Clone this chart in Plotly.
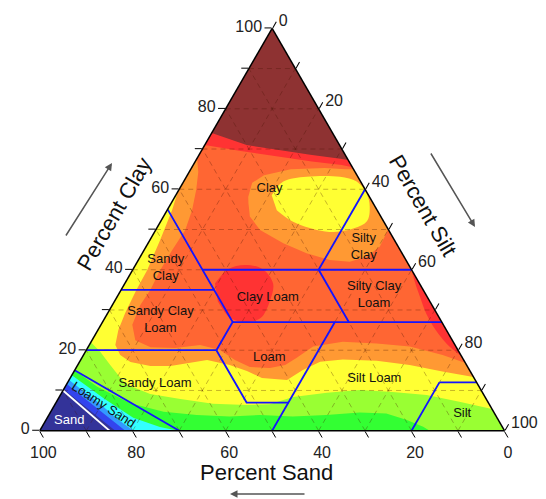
import plotly.graph_objects as go

# ---------------- data: band boundaries as (clay %, sand %) ----------------
base_clay = [100, 0, 0]
base_sand = [0, 100, 0]

green_clay = [15, 10.9, 6.8, 4.7, 3.9, 3.5, 3.9, 3.5, 3.9, 4.5, 4.3, 2.7, 1.0, 0, 0]
green_sand = [85, 82.2, 77.1, 71.0, 64.3, 57.4, 50.7, 43.8, 36.4, 28.9, 23.3, 19.8, 17.0, 16.1, 100]

cyan_clay = [13.8, 8.0, 3.2, 0.9, 0, 0]
cyan_sand = [86.2, 82.2, 78.3, 73.7, 70.2, 100]

lblue_clay = [12.6, 6.6, 2.7, 0, 0]
lblue_sand = [87.4, 83.65, 81.75, 79.8, 100]

blue_clay = [11.6, 5.6, 0, 0]
blue_sand = [88.4, 84.9, 81.6, 100]

navy_clay = [10.3, 4.3, 0, 0]
navy_sand = [89.7, 86.25, 83.75, 100]

yellow_clay = [22, 19.6, 16.3, 11.6, 9.1, 7.9, 6.7, 6.4, 6.6, 8.4, 9.4, 10.1, 9.6, 8.9, 7.2, 5.4, 100]
yellow_sand = [78, 77.2, 76.7, 75.8, 71.7, 65.8, 59.4, 52.2, 47.2, 41.3, 33.5, 26.1, 19.3, 12.3, 6.1, 0, 0]

orange_clay = [59.4, 54.85, 47.4, 39.9, 35.0, 29.25, 25.0, 21.3, 18.8, 17.1, 16.1, 16.1, 17.6, 16.3,
               14.85, 13.1, 12.6, 15.1, 17.15, 17.7, 17.4, 16.3, 14.7, 13.35, 100]
orange_sand = [40.6, 44.1, 50.4, 56.95, 61.7, 67.0, 70.6, 73.1, 73.3, 71.95, 68.15, 63.85, 55.2, 51.0,
               48.0, 45.65, 40.5, 35.85, 31.1, 25.95, 18.8, 12.25, 6.0, 0, 0]

ored_clay = [67.7, 64.3, 59.8, 54.85, 49.9, 44.9, 39.9, 35.0, 31.2, 26.3, 22.5, 20.75, 20.55, 21.3, 20.05,
             17.6, 15.8, 15.6, 16.3, 18.1, 20.9, 22.1, 21.7, 20.9, 18.8, 16.8, 100]
ored_sand = [32.3, 33.75, 36.45, 39.8, 43.75, 49.05, 54.15, 58.7, 62.8, 66.95, 68.2, 65.8, 60.6, 54.85, 51.2,
             49.2, 46.9, 42.7, 39.05, 35.65, 30.75, 23.75, 16.65, 9.95, 3.9, 0, 0]

redtop_clay = [71, 69.5, 68.2, 66.9, 66.0, 65.5, 100]
redtop_sand = [29, 22, 15, 8, 2, 0, 0]

rededge_clay = [40, 37, 33, 29, 25, 21.5, 18.5]
rededge_sand = [0, 0.8, 1.6, 2.3, 2.3, 1.6, 0]

redblob_clay = [36.6, 40.2, 41.2, 40.2, 36.6, 32.2, 28.0, 27.0, 28.0, 32.2]
redblob_sand = [44.0, 39.3, 35.3, 32.0, 31.5, 34.4, 38.5, 42.3, 45.0, 45.6]

brown_clay = [74, 71, 69.8, 68.6, 67.6, 67.3, 100]
brown_sand = [26, 20, 14, 7.5, 1.5, 0, 0]

ring_clay = [58.1, 61.6, 63.5, 65.0, 65.3, 65.0, 65.0, 50, 49.1, 45.7, 43.2, 42.0, 42.4, 44.1, 46.6, 49.9, 53.2, 56.5]
ring_sand = [26.1, 23.5, 20.0, 13.5, 6.0, 1.6, 0, 0, 0.85, 4.0, 8.1, 12.3, 16.4, 20.55, 24.3, 27.65, 28.2, 26.85]

yblob_clay = [58.5, 61.9, 63.1, 63.1, 61.9, 59.0, 55.7, 51.9, 49.5, 49.9, 51.9, 54.8]
yblob_sand = [20.85, 16.65, 11.05, 3.85, 0.85, 0.2, 1.15, 3.75, 10.65, 15.45, 19.55, 21.6]

# USDA texture class boundaries (clay, sand) polylines
class_lines = [
    ([15, 0], [85, 70]),
    ([20, 20], [80, 52]),
    ([20, 7, 7], [52, 52, 43]),
    ([0, 27], [50, 23]),
    ([27, 27], [45, 0]),
    ([20, 27, 55], [52, 45, 45]),
    ([35, 35], [65, 45]),
    ([40, 40], [45, 0]),
    ([40, 60], [20, 0]),
    ([27, 40], [20, 20]),
    ([12, 12], [8, 0]),
    ([12, 0], [8, 20]),
]
sand_line = ([10, 0], [90, 85])

grid_vals = [10, 20, 30, 40, 50, 60, 70, 80, 90]
tick_vals = [0, 10, 20, 30, 40, 50, 60, 70, 80, 90, 100]
tick_text = ['0', '', '20', '', '40', '', '60', '', '80', '', '100']

labels = ['Clay', 'Silty<br>Clay', 'Sandy<br>Clay', 'Clay Loam', 'Silty Clay<br>Loam',
          'Sandy Clay<br>Loam', 'Loam', 'Sandy Loam', 'Silt Loam', 'Silt']
label_clay = [60.1, 45.6, 40.4, 33.1, 33.7, 27.5, 18.2, 11.6, 13.0, 4.2]
label_sand = [20.5, 7.5, 52.7, 34.4, 11.2, 60.3, 41.5, 69.4, 21.5, 7.0]

# ---------------- figure ----------------
fig = go.Figure()


def silt_of(clay, sand):
    return [100 - c - s for c, s in zip(clay, sand)]


def band(clay, sand, color, shape='linear'):
    fig.add_trace(go.Scatterternary(
        a=clay, b=sand, c=silt_of(clay, sand), mode='lines', fill='toself',
        fillcolor=color, line=dict(width=0, color=color, shape=shape),
        hoverinfo='skip', showlegend=False))


band(base_clay, base_sand, '#99FF33')
band(green_clay, green_sand, '#33FF33')
band(cyan_clay, cyan_sand, '#33FFFF')
band(lblue_clay, lblue_sand, '#3399FF')
band(blue_clay, blue_sand, '#3344EE')
band(navy_clay, navy_sand, '#333399')
band(yellow_clay, yellow_sand, '#FFFF33')
band(orange_clay, orange_sand, '#FF9933')
band(ored_clay, ored_sand, '#FF6633')
band(redtop_clay, redtop_sand, '#FF3333')
band(rededge_clay, rededge_sand, '#FF3333', 'spline')
band(redblob_clay, redblob_sand, '#FF3333', 'spline')
band(brown_clay, brown_sand, '#8E3232')
band(ring_clay, ring_sand, '#FF9933')
band(yblob_clay, yblob_sand, '#FFFF33', 'spline')

# dashed grid lines
gcol = 'rgba(70,20,0,0.35)'
for v in grid_vals:
    for a, b in (([v, v], [100 - v, 0]), ([0, 100 - v], [v, v]), ([0, 100 - v], [100 - v, 0])):
        fig.add_trace(go.Scatterternary(
            a=a, b=b, c=silt_of(a, b), mode='lines',
            line=dict(color=gcol, width=0.9, dash='5px,4px'), hoverinfo='skip', showlegend=False))

# class boundaries
for a, b in class_lines:
    fig.add_trace(go.Scatterternary(a=a, b=b, c=silt_of(a, b), mode='lines',
                                    line=dict(color='#1414FF', width=1.8),
                                    hoverinfo='skip', showlegend=False))
fig.add_trace(go.Scatterternary(a=sand_line[0], b=sand_line[1], c=silt_of(*sand_line), mode='lines',
                                line=dict(color='white', width=1.8), hoverinfo='skip', showlegend=False))

font = 'Liberation Sans, Arial'

# class labels
fig.add_trace(go.Scatterternary(a=label_clay, b=label_sand, c=silt_of(label_clay, label_sand),
                                mode='text', text=labels,
                                textfont=dict(family=font, size=13, color='#111'),
                                hoverinfo='skip', showlegend=False))

# page body has an 8px margin: the figure is drawn 8px right/down of the window corner
OFF = 8
W, H = 546 - OFF, 499 - OFF
dom_x = [31.3 / W, 497.0 / W]
dom_y = [68.3 / H, 470.7 / H]

axis_common = dict(min=0, tickmode='array', tickvals=tick_vals, ticktext=tick_text,
                   ticks='outside', ticklen=7, tickcolor='#000', tickwidth=1.2,
                   linecolor='#000', linewidth=1.5, showgrid=False,
                   tickfont=dict(family=font, size=16, color='#222'),
                   title=dict(text=''), layer='above traces')

fig.update_layout(
    width=W, height=H, margin=dict(l=0, r=0, t=0, b=0),
    paper_bgcolor='white', plot_bgcolor='white', showlegend=False,
    ternary=dict(sum=100, domain=dict(x=dom_x, y=dom_y), bgcolor='white',
                 aaxis=axis_common, baxis=axis_common, caxis=axis_common),
)

# helper: ternary -> paper coordinates (for rotated text)
wpx = (dom_x[1] - dom_x[0]) * W
hpx = (dom_y[1] - dom_y[0]) * H
w_eff = min(wpx, hpx * 2 / 3 ** 0.5)
h_eff = w_eff * 3 ** 0.5 / 2
x_left = dom_x[0] * W + (wpx - w_eff) / 2
y_bot = dom_y[0] * H + (hpx - h_eff) / 2


def to_paper(clay, sand):
    silt = 100 - clay - sand
    px = x_left + (silt + clay / 2) / 100 * w_eff
    py = y_bot + clay / 100 * h_eff
    return px / W, py / H


def win(px, py):
    # window pixel (from top-left) -> paper fraction
    return (px - OFF) / W, 1 - (py - OFF) / H


lx, ly = to_paper(6.4, 83.1)
fig.add_annotation(x=lx, y=ly, xref='paper', yref='paper', text='Loamy Sand', showarrow=False,
                   xanchor='center', yanchor='middle',
                   textangle=33, font=dict(family=font, size=13, color='#111'))
sx, sy = to_paper(2.8, 92.4)
fig.add_annotation(x=sx, y=sy, xref='paper', yref='paper', text='Sand', showarrow=False,
                   xanchor='center', yanchor='middle',
                   font=dict(family=font, size=13, color='white'))

# axis titles
for (px, py), txt, ang in (((113.5, 214), 'Percent Clay', -60),
                           ((422.5, 206), 'Percent Silt', 60),
                           ((266, 472), 'Percent Sand', 0)):
    x, y = win(px, py)
    fig.add_annotation(x=x, y=y, xref='paper', yref='paper', text=txt, showarrow=False,
                       xanchor='center', yanchor='middle', textangle=ang,
                       font=dict(family=font, size=22, color='#111'))

# arrows (head position, tail offset in px)
for hx, hy, ax, ay in ((112, 163, -47, 74), (475, 227, -45, -75), (230, 494, 76, 0)):
    x, y = win(hx, hy)
    fig.add_annotation(x=x, y=y, xref='paper', yref='paper', text='',
                       showarrow=True, ax=ax, ay=ay, arrowhead=2, arrowsize=1, arrowwidth=1.5,
                       arrowcolor='#555')

fig.write_html('out.html')
